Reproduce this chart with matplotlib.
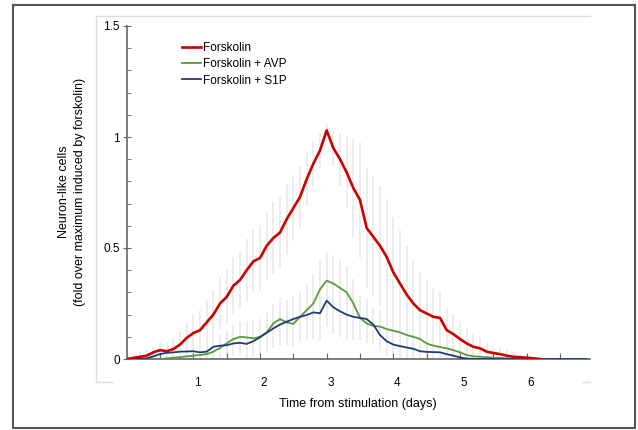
import numpy as np
import matplotlib
matplotlib.use("Agg")
import matplotlib.pyplot as plt
import matplotlib.transforms as mtransforms
from matplotlib.lines import Line2D
from matplotlib.patches import Rectangle

plt.rcParams["font.family"] = ["Liberation Sans", "DejaVu Sans"]

# time points (days), one reading every 0.1 day
days_fsk = np.round(np.arange(0, 6.25, 0.1), 1)
days_avp = np.round(np.arange(0, 6.25, 0.1), 1)
days_s1p = np.round(np.arange(0, 6.95, 0.1), 1)

forskolin = [0.0, 0.005, 0.01, 0.015, 0.03, 0.04, 0.035, 0.045, 0.065, 0.095,
             0.117, 0.13, 0.165, 0.20, 0.25, 0.28, 0.33, 0.356, 0.40, 0.44,
             0.455, 0.51, 0.545, 0.57, 0.63, 0.68, 0.73, 0.81, 0.88, 0.94,
             1.03, 0.95, 0.90, 0.84, 0.77, 0.716, 0.59, 0.55, 0.51, 0.46,
             0.39, 0.34, 0.29, 0.25, 0.22, 0.205, 0.19, 0.185, 0.13, 0.112,
             0.09, 0.07, 0.055, 0.048, 0.033, 0.027, 0.022, 0.015, 0.01, 0.008,
             0.006, 0.003, 0.0]
forskolin_err = [0.01, 0.015, 0.02, 0.025, 0.03, 0.035, 0.04, 0.05, 0.06, 0.07,
                 0.08, 0.09, 0.10, 0.11, 0.12, 0.12, 0.13, 0.13, 0.14, 0.14,
                 0.15, 0.15, 0.16, 0.16, 0.16, 0.15, 0.14, 0.12, 0.10, 0.08,
                 0.03, 0.08, 0.12, 0.16, 0.22, 0.26, 0.27, 0.27, 0.27, 0.26,
                 0.25, 0.24, 0.22, 0.19, 0.17, 0.15, 0.13, 0.12, 0.10, 0.09,
                 0.08, 0.07, 0.06, 0.05, 0.04, 0.035, 0.03, 0.025, 0.02, 0.015,
                 0.01, 0.005, 0.0]

fsk_avp = [0.0, 0.0, 0.0, 0.0, 0.0, 0.0, 0.003, 0.006, 0.008, 0.012,
           0.015, 0.018, 0.022, 0.033, 0.05, 0.07, 0.09, 0.10, 0.097, 0.093,
           0.10, 0.12, 0.16, 0.18, 0.165, 0.158, 0.19, 0.22, 0.25, 0.314,
           0.353, 0.34, 0.32, 0.30, 0.25, 0.185, 0.16, 0.149, 0.146, 0.135,
           0.127, 0.12, 0.108, 0.10, 0.09, 0.07, 0.06, 0.054, 0.048, 0.04,
           0.03, 0.018, 0.012, 0.01, 0.008, 0.006, 0.005, 0.003, 0.002, 0.0,
           0.0, 0.0, 0.0]
fsk_avp_err = [0.0, 0.0, 0.0, 0.005, 0.01, 0.01, 0.015, 0.02, 0.02, 0.025,
               0.03, 0.03, 0.035, 0.04, 0.05, 0.06, 0.065, 0.07, 0.075, 0.08,
               0.08, 0.085, 0.09, 0.095, 0.10, 0.10, 0.11, 0.12, 0.13, 0.13,
               0.13, 0.13, 0.125, 0.12, 0.11, 0.10, 0.09, 0.085, 0.08, 0.075,
               0.07, 0.065, 0.06, 0.055, 0.05, 0.05, 0.045, 0.04, 0.035, 0.03,
               0.03, 0.025, 0.02, 0.015, 0.01, 0.01, 0.005, 0.005, 0.0, 0.0,
               0.0, 0.0, 0.0]

fsk_s1p = [0.0, 0.0, 0.0, 0.003, 0.012, 0.022, 0.028, 0.03, 0.033, 0.034,
           0.035, 0.03, 0.033, 0.055, 0.06, 0.062, 0.07, 0.073, 0.068, 0.08,
           0.098, 0.118, 0.138, 0.155, 0.168, 0.18, 0.19, 0.198, 0.21, 0.206,
           0.263, 0.233, 0.215, 0.20, 0.19, 0.185, 0.18, 0.155, 0.108, 0.08,
           0.065, 0.058, 0.052, 0.046, 0.035, 0.032, 0.031, 0.03, 0.022, 0.015,
           0.007, 0.002, 0.0, 0.0, 0.0, 0.0, 0.0, 0.0, 0.0, 0.0,
           0.0, 0.0, 0.0, 0.0, 0.0, 0.0, 0.0, 0.0, 0.0, 0.0]
fsk_s1p_err = [0.0, 0.0, 0.005, 0.01, 0.015, 0.02, 0.02, 0.025, 0.025, 0.03,
               0.03, 0.035, 0.04, 0.045, 0.05, 0.05, 0.055, 0.06, 0.065, 0.07,
               0.08, 0.085, 0.09, 0.095, 0.10, 0.10, 0.11, 0.11, 0.12, 0.12,
               0.12, 0.12, 0.115, 0.11, 0.105, 0.10, 0.09, 0.08, 0.07, 0.065,
               0.06, 0.055, 0.05, 0.045, 0.04, 0.04, 0.035, 0.03, 0.025, 0.02,
               0.02, 0.01, 0.005, 0.0, 0.0, 0.0, 0.0, 0.0, 0.0, 0.0,
               0.0, 0.0, 0.0, 0.0, 0.0, 0.0, 0.0, 0.0, 0.0, 0.0]

labels = ["Forskolin", "Forskolin + AVP", "Forskolin + S1P"]
colors = ["#cc0000", "#5b9a3c", "#1f3a78"]
xtick_labels = ["1", "2", "3", "4", "5", "6"]

fig = plt.figure(figsize=(6.38, 4.30), dpi=100)

# outer frame and inner light panel
fig.add_artist(Rectangle((13 / 638, 2 / 430), 622 / 638, 423 / 430, transform=fig.transFigure,
                         fill=False, edgecolor="#555555", linewidth=1.5))
for xs, ys in [([96, 96], [16, 382]), ([96, 590], [16, 16]),
               ([96, 113], [382, 382]), ([582, 590], [382, 382])]:
    fig.add_artist(Line2D([x / 638 for x in xs], [1 - y / 430 for y in ys],
                          transform=fig.transFigure, color="#dddddd", linewidth=1))

ax = fig.add_axes([126.7 / 638, 71 / 430, 463.3 / 638, 333 / 430])

series = [(days_fsk, forskolin, forskolin_err),
          (days_avp, fsk_avp, fsk_avp_err),
          (days_s1p, fsk_s1p, fsk_s1p_err)]
for d, m, e in series:
    m = np.array(m)
    e = np.array(e)
    ax.vlines(d, m - e, m + e, color="#ececec", linewidth=1.3, zorder=1)

widths = [1.9, 1.3, 1.3]
order = [1, 2, 0]
for i in order:
    d, m, _ = series[i]
    ax.plot(d, m, color=colors[i], linewidth=widths[i], label=labels[i], zorder=3 + (i == 0))

ax.set_xlim(0, 6.95)
ax.set_ylim(0, 1.5)
for s in ["top", "right"]:
    ax.spines[s].set_visible(False)
for s in ["left", "bottom"]:
    ax.spines[s].set_color("#666666")
    ax.spines[s].set_linewidth(1.2)

ax.set_yticks([0, 0.5, 1, 1.5])
ax.set_yticklabels(["0", "0.5", "1", "1.5"])
ax.set_yticks(np.arange(0, 1.51, 0.1), minor=True)
ax.tick_params(axis="y", which="major", direction="inout", length=6, color="#666666",
               labelsize=8.5, pad=2)
ax.tick_params(axis="y", which="minor", direction="in", length=3, color="#666666")
xt = np.arange(0.5, 6.6, 0.5)
ax.set_xticks(xt)
ax.set_xticklabels([str(int(v)) if v == int(v) else "" for v in xt])
ax.tick_params(axis="x", direction="in", length=4, color="#666666", labelsize=8.5, pad=13)
shift = mtransforms.ScaledTranslation(4 / 100, 0, fig.dpi_scale_trans)
for lab in ax.get_xticklabels():
    lab.set_transform(lab.get_transform() + shift)

h, l = ax.get_legend_handles_labels()
h = [h[order.index(i)] for i in range(3)]
l = [l[order.index(i)] for i in range(3)]
ax.legend(h, l, loc="upper left", bbox_to_anchor=(0.12, 0.953), frameon=False,
          fontsize=8.5, handlelength=1.6, handletextpad=0.15, labelspacing=0.38,
          borderaxespad=0, borderpad=0)

fig.text(72 / 638, 1 - 192 / 430, "Neuron-like cells\n(fold over maximum induced by forskolin)",
         rotation=90, ha="center", va="center", multialignment="center", fontsize=9,
         linespacing=1.35)
fig.text(358 / 638, 1 - 404 / 430, "Time from stimulation (days)", ha="center", va="center",
         fontsize=9)

fig.savefig("out.png", dpi=100)
